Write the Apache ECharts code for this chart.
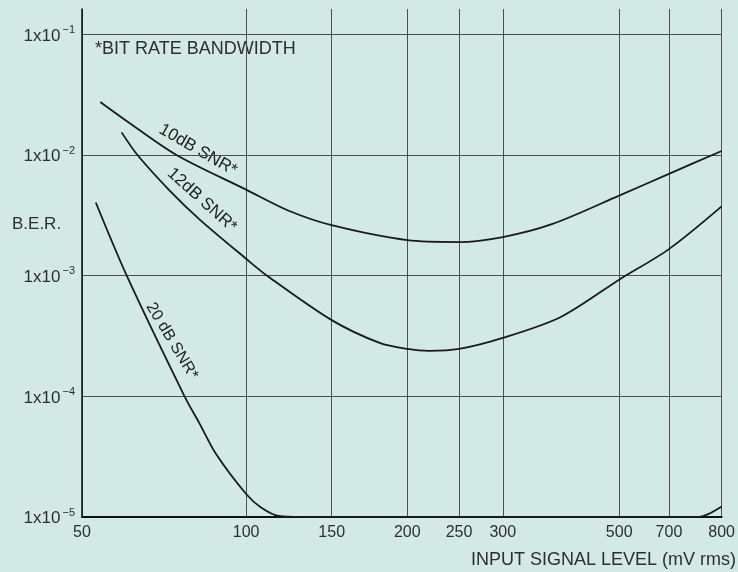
<!DOCTYPE html>
<html><head><meta charset="utf-8">
<script src="https://cdn.jsdelivr.net/npm/echarts@6/dist/echarts.min.js"></script>
<style>html,body{margin:0;padding:0;background:#d3e9e3}#c{width:738px;height:572px}</style>
</head><body><div id="c"></div>
<script>
// ---- data ----
const xTickValues = [50, 100, 150, 200, 250, 300, 500, 700, 800];
const xTickLabels = ['50', '100', '150', '200', '250', '300', '500', '700', '800'];
const yTickExponents = [-5, -4, -3, -2, -1];
const snr10 = [[54, 2.75e-2], [61, 1.85e-2], [74.5, 1.0e-2], [100, 5.16e-3], [122, 3.47e-3], [150, 2.62e-3], [200, 1.97e-3], [250, 1.9e-3], [300, 2.09e-3], [372, 2.67e-3], [500, 4.61e-3], [700, 6.98e-3], [800, 1.08e-2]];
const snr12 = [[59.1, 1.54e-2], [63.2, 1.0e-2], [72.4, 5.07e-3], [82.1, 2.93e-3], [100, 1.38e-3], [110.4, 1.0e-3], [150, 4.28e-4], [180, 2.77e-4], [200, 2.47e-4], [220, 2.38e-4], [250, 2.47e-4], [300, 3.05e-4], [387, 4.55e-4], [500, 9.27e-4], [700, 1.66e-3], [800, 3.75e-3]];
const snr20 = [[53, 4.04e-3], [60.4, 1.0e-3], [77.1, 1.0e-4], [82.1, 5.97e-5], [88.2, 3.29e-5], [100, 1.55e-5], [107.3, 1.2e-5], [116.8, 1.02e-5], [130, 1.0e-5], [300, 1.0e-5], [500, 1.0e-5], [755, 1.0e-5], [778, 1.08e-5], [800, 1.22e-5]];

// ---- layout: the printed x scale is hand-spaced; relative offsets of its ticks ----
const xTickOffsets = [0, 165, 251, 327, 379, 423, 540, 590, 643];

function warp(v) {
  const n = xTickValues.length;
  if (v <= xTickValues[0]) return xTickOffsets[0];
  for (let i = 0; i < n - 1; i++) {
    if (v <= xTickValues[i + 1]) {
      const f = Math.log(v / xTickValues[i]) / Math.log(xTickValues[i + 1] / xTickValues[i]);
      return xTickOffsets[i] + f * (xTickOffsets[i + 1] - xTickOffsets[i]);
    }
  }
  return xTickOffsets[n - 1];
}
const toXY = arr => arr.map(p => [warp(p[0]), p[1]]);
const xCustom = xTickValues.map(warp);

const FONT = '"Liberation Sans", Arial, sans-serif';
const TXT = '#2e2e2e';
const chart = echarts.init(document.getElementById('c'));
const lineStyle = { color: '#1a1a1a', width: 1.8 };
const mkSeries = (name, d) => ({
  name, type: 'line', data: toXY(d), smooth: 0.3,
  showSymbol: false, symbol: 'none', lineStyle, silent: true, clip: true
});

chart.setOption({
  backgroundColor: '#d3e9e3',
  animation: false,
  grid: { left: 82, right: 13, top: 9, bottom: 55 },
  xAxis: {
    type: 'value', min: xTickOffsets[0], max: xTickOffsets[xTickOffsets.length - 1],
    axisLine: { show: true, onZero: false, lineStyle: { color: '#111', width: 2 } },
    axisTick: { show: false, customValues: xCustom },
    axisLabel: {
      customValues: xCustom, margin: 8, fontSize: 16, color: TXT, fontFamily: FONT,
      formatter: v => {
        let bi = 0, bd = Infinity;
        xCustom.forEach((c, i) => { const d = Math.abs(c - v); if (d < bd) { bd = d; bi = i; } });
        return xTickLabels[bi];
      }
    },
    splitLine: { show: true, lineStyle: { color: '#4a4f55', width: 1 } }
  },
  yAxis: {
    type: 'log', logBase: 10, min: Math.pow(10, yTickExponents[0]), max: Math.pow(10, -0.79),
    axisLine: { show: true, lineStyle: { color: '#111', width: 1.5 } },
    axisTick: { show: false },
    axisLabel: {
      margin: 7, color: TXT, fontFamily: FONT,
      formatter: v => {
        const lg = Math.log10(v), e = Math.round(lg);
        if (Math.abs(lg - e) > 0.01 || yTickExponents.indexOf(e) < 0) return '';
        return '{b|1x10}{s|\u2212' + (-e) + '}';
      },
      rich: {
        b: { fontSize: 17, color: TXT, fontFamily: FONT, lineHeight: 20, verticalAlign: 'bottom' },
        s: { fontSize: 11, color: TXT, fontFamily: FONT, lineHeight: 12, verticalAlign: 'top', padding: [0, 0, 0, 2] }
      }
    },
    splitLine: { show: true, showMaxLine: false, lineStyle: { color: '#4a4a60', width: 1 } }
  },
  series: [mkSeries('10dB SNR*', snr10), mkSeries('12dB SNR*', snr12), mkSeries('20 dB SNR*', snr20)],
  graphic: [
    { type: 'text', x: 95, y: 49, style: { text: '*BIT RATE BANDWIDTH', fill: TXT, font: '18px ' + FONT, textAlign: 'left', textVerticalAlign: 'middle' } },
    { type: 'text', x: 12, y: 224, style: { text: 'B.E.R.', fill: TXT, font: '17px ' + FONT, textAlign: 'left', textVerticalAlign: 'middle' } },
    { type: 'text', x: 736, y: 560, style: { text: 'INPUT SIGNAL LEVEL (mV rms)', fill: TXT, font: '18px ' + FONT, textAlign: 'right', textVerticalAlign: 'middle' } },
    { type: 'text', x: 198, y: 150, rotation: -30 * Math.PI / 180, style: { text: '10dB SNR*', fill: '#222', font: '17px ' + FONT, textAlign: 'center', textVerticalAlign: 'middle' } },
    { type: 'text', x: 202, y: 200, rotation: -42 * Math.PI / 180, style: { text: '12dB SNR*', fill: '#222', font: '17px ' + FONT, textAlign: 'center', textVerticalAlign: 'middle' } },
    { type: 'text', x: 172, y: 341, rotation: -59 * Math.PI / 180, style: { text: '20 dB SNR*', fill: '#222', font: '16px ' + FONT, textAlign: 'center', textVerticalAlign: 'middle' } }
  ]
});
</script></body></html>
